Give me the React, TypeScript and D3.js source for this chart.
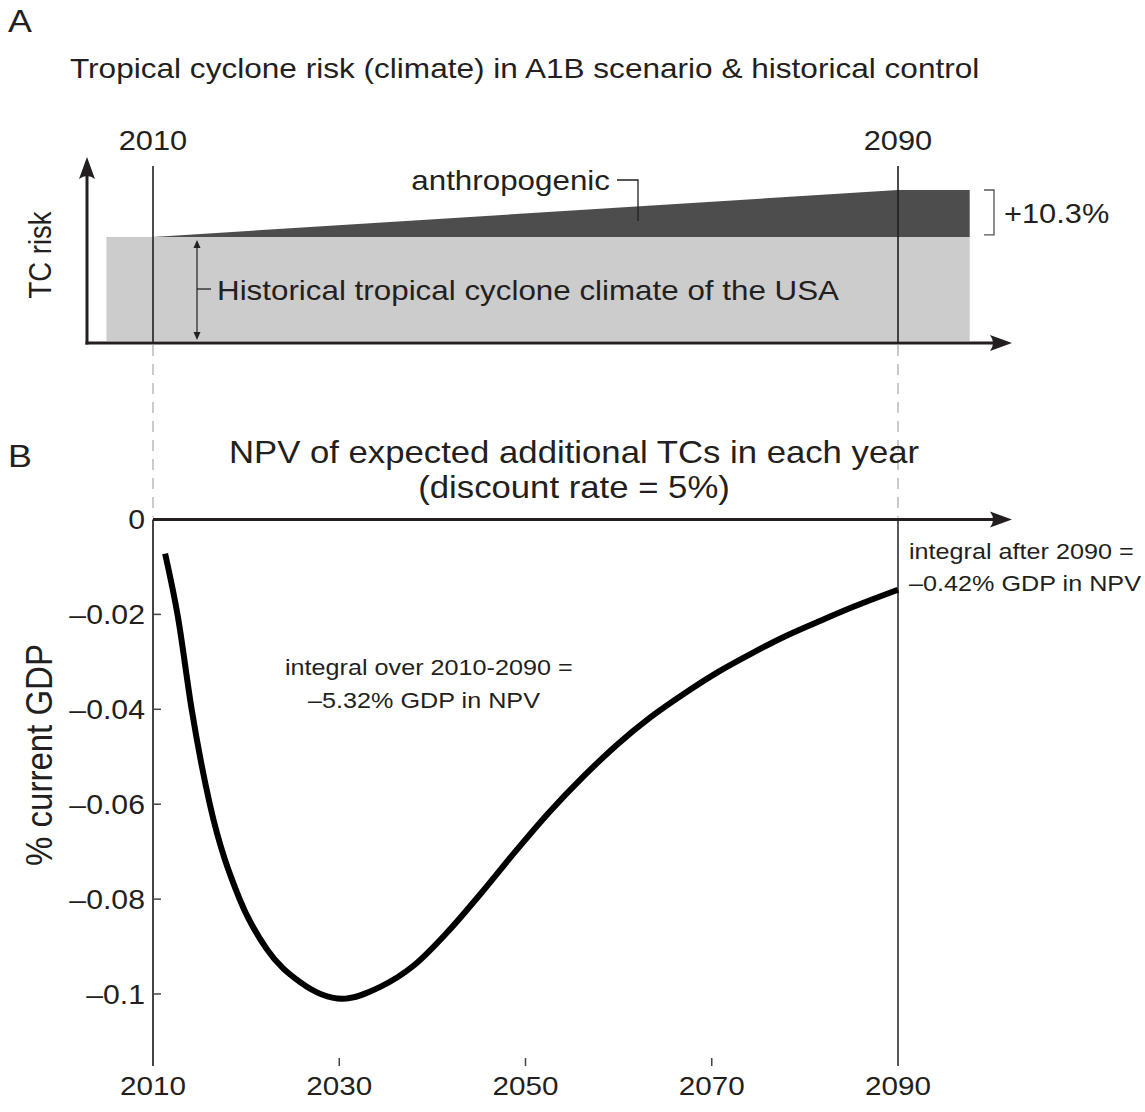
import React from "react";
import * as d3 from "d3";

// NPV of expected additional TC losses per year (% of current GDP)
const npvYears = [2011.3, 2012.7, 2014.15, 2016.1, 2019.3, 2022.2, 2025.8, 2030.3, 2034.4, 2038.0, 2041.6, 2045.3, 2048.9, 2052.5, 2056.2, 2059.8, 2063.4, 2067.1, 2070.7, 2074.3, 2077.9, 2081.6, 2085.2, 2090];
const npvValues = [-0.0072, -0.0208, -0.040, -0.060, -0.080, -0.0905, -0.0975, -0.1010, -0.0985, -0.0940, -0.0870, -0.0786, -0.0700, -0.0618, -0.0542, -0.0475, -0.0417, -0.0366, -0.0321, -0.0282, -0.0246, -0.0214, -0.0184, -0.0148];

const yTicks = [0, -0.02, -0.04, -0.06, -0.08, -0.1];
const yTickLabels = ["0", "–0.02", "–0.04", "–0.06", "–0.08", "–0.1"];
const xTicks = [2010, 2030, 2050, 2070, 2090];
const markerYears = [2010, 2090];

// Schematic TC risk: historical climate (relative 1.0) plus anthropogenic increase
const historicalSpan = [2005, 2097.7];
const historicalRisk = 1.0;
const anthroYears = [2010, 2090, 2097.7];
const anthroRisk = [1.0, 1.103, 1.103];
const anthroLabel = "+10.3%";

const FONT = "'Liberation Sans', Arial, Helvetica, sans-serif";
const INK = "#231f20";
const SX = 1.12;

function Txt({ x, y, size, anchor = "start", rotate = 0, children }: any) {
  const t = `translate(${x},${y}) scale(${SX},1)` + (rotate ? ` rotate(${rotate})` : "");
  return (
    <text transform={t} fontSize={size} textAnchor={anchor} fontFamily={FONT} fill={INK}>
      {children}
    </text>
  );
}

// notched arrowhead, tip at (x,y), direction "right" or "up"
function arrowHead(x: number, y: number, dir: "right" | "up", len = 22, hw = 8) {
  if (dir === "right") {
    return `M${x},${y} L${x - len},${y - hw} Q${x - len + 6},${y} ${x - len},${y + hw} Z`;
  }
  return `M${x},${y} L${x - hw},${y + len} Q${x},${y + len - 6} ${x + hw},${y + len} Z`;
}

export default function App() {
  const W = 1145;
  const H = 1112;
  const x = d3.scaleLinear().domain([2010, 2090]).range([153, 898]);
  const y = d3.scaleLinear().domain([-0.1, 0]).range([994, 519.5]);
  const risk = d3.scaleLinear().domain([0.767, 1.103]).range([343, 190]);

  const axisA = 343;
  const yBottom = 1066;

  const line = d3
    .line<number>()
    .x((_, i) => x(npvYears[i]))
    .y((d) => y(d))
    .curve(d3.curveMonotoneX);

  const anthroArea = d3
    .area<number>()
    .x((_, i) => x(anthroYears[i]))
    .y0(() => risk(historicalRisk))
    .y1((d) => risk(d));

  const zeroY = y(0);

  return (
    <svg width={W} height={H} style={{ display: "block", position: "absolute", left: 0, top: 0, background: "#fff" }}>
      <rect width={W} height={H} fill="#fff" />

      {/* Panel A */}
      <Txt x={8} y={32} size={32}>A</Txt>
      <Txt x={70} y={78} size={28.2}>Tropical cyclone risk (climate) in A1B scenario &amp; historical control</Txt>

      <rect
        x={x(historicalSpan[0])}
        y={risk(historicalRisk)}
        width={x(historicalSpan[1]) - x(historicalSpan[0])}
        height={risk(risk.domain()[0]) - risk(historicalRisk) - 2}
        fill="#cccccc"
      />
      <path d={anthroArea(anthroRisk) || ""} fill="#4d4d4d" />

      {markerYears.map((yr) => (
        <g key={yr}>
          <line x1={x(yr)} x2={x(yr)} y1={166} y2={axisA} stroke={INK} strokeWidth={1.6} />
          <line x1={x(yr)} x2={x(yr)} y1={axisA + 2} y2={zeroY - 2} stroke="#bdbdbd" strokeWidth={1.6} strokeDasharray="11 8" />
          <Txt x={x(yr)} y={150} size={27.5} anchor="middle">{String(yr)}</Txt>
        </g>
      ))}

      {/* axes of panel A */}
      <line x1={87} x2={87} y1={axisA + 1.5} y2={170} stroke={INK} strokeWidth={3} />
      <path d={arrowHead(87, 157, "up")} fill={INK} />
      <line x1={85.5} x2={1000} y1={axisA} y2={axisA} stroke={INK} strokeWidth={3} />
      <path d={arrowHead(1012, axisA, "right")} fill={INK} />
      <Txt x={51} y={255} size={27.5} anchor="middle" rotate={-90}>TC risk</Txt>

      {/* historical span marker */}
      <line x1={197} x2={197} y1={246} y2={334} stroke="#444" strokeWidth={1.5} />
      <path d="M197,240 L193.5,248 L200.5,248 Z" fill="#222" />
      <path d="M197,340 L193.5,332 L200.5,332 Z" fill="#222" />
      <line x1={197} x2={211} y1={289} y2={289} stroke={INK} strokeWidth={1.3} />
      <Txt x={217} y={300} size={28}>Historical tropical cyclone climate of the USA</Txt>

      {/* anthropogenic label */}
      <Txt x={610} y={190} size={28} anchor="end">anthropogenic</Txt>
      <path d="M617,180 H638 V221" fill="none" stroke={INK} strokeWidth={1.3} />

      <path d={`M984,${risk(anthroRisk[2])} H994 V${risk(historicalRisk) - 2} H984`} fill="none" stroke="#555" strokeWidth={1.3} />
      <Txt x={1004} y={223} size={27.5}>{anthroLabel}</Txt>

      {/* Panel B */}
      <Txt x={8} y={467} size={32}>B</Txt>
      <Txt x={574} y={463} size={31} anchor="middle">NPV of expected additional TCs in each year</Txt>
      <Txt x={574} y={498} size={31} anchor="middle">(discount rate = 5%)</Txt>

      <line x1={x(2010)} x2={x(2010)} y1={zeroY} y2={yBottom} stroke="#444" strokeWidth={2} />
      <line x1={x(2090)} x2={x(2090)} y1={zeroY} y2={yBottom} stroke={INK} strokeWidth={1.5} />

      {yTicks.map((t, i) => (
        <g key={t}>
          {t !== 0 && <line x1={x(2010)} x2={x(2010) + 8} y1={y(t)} y2={y(t)} stroke="#444" strokeWidth={1.5} />}
          <Txt x={145} y={y(t) + 9.5} size={27} anchor="end">{yTickLabels[i]}</Txt>
        </g>
      ))}

      {xTicks.map((t) => (
        <g key={t}>
          {t !== 2010 && t !== 2090 && <line x1={x(t)} x2={x(t)} y1={yBottom - 8} y2={yBottom} stroke="#444" strokeWidth={1.5} />}
          <Txt x={x(t)} y={1095} size={26.5} anchor="middle">{String(t)}</Txt>
        </g>
      ))}

      <Txt x={52} y={755} size={33} anchor="middle" rotate={-90}>% current GDP</Txt>

      <line x1={x(2010)} x2={1000} y1={zeroY} y2={zeroY} stroke={INK} strokeWidth={3} />
      <path d={arrowHead(1012, zeroY, "right")} fill={INK} />

      <path d={line(npvValues) || ""} fill="none" stroke="#000" strokeWidth={6} />

      <Txt x={285} y={675} size={22.5}>integral over 2010-2090 =</Txt>
      <Txt x={308} y={708} size={22.5}>–5.32% GDP in NPV</Txt>
      <Txt x={909} y={559} size={22.5}>integral after 2090 =</Txt>
      <Txt x={909} y={591} size={22.5}>–0.42% GDP in NPV</Txt>
    </svg>
  );
}
